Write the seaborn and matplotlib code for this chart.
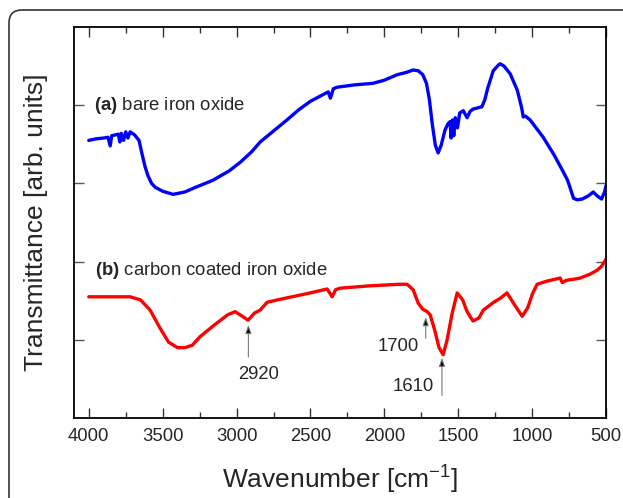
import matplotlib
matplotlib.use("Agg")
import matplotlib.pyplot as plt
import seaborn as sns
import pandas as pd
from matplotlib.patches import FancyBboxPatch
from matplotlib.ticker import MultipleLocator

# ---- data ----
wn_a = [4000, 3950, 3900, 3870, 3855, 3845, 3820, 3800, 3790, 3780, 3765, 3750, 3735, 3720,
        3690, 3660, 3640, 3620, 3600, 3575, 3550, 3500, 3430, 3350, 3290, 3160, 3050, 2975, 2900,
        2840, 2750, 2660, 2580, 2500, 2420, 2380, 2365, 2345, 2320, 2200, 2076, 2000, 1913,
        1850, 1805, 1770, 1740, 1715, 1695, 1675, 1655, 1636, 1615, 1590, 1570, 1555, 1548,
        1540, 1530, 1520, 1505, 1490, 1466, 1440, 1420, 1400, 1340, 1320, 1300, 1263, 1230,
        1216, 1190, 1148, 1100, 1070, 1060, 1045, 1013, 925, 850, 790, 760, 742, 720, 695,
        661, 620, 586, 560, 530, 510, 500]
tr_a = [3.55, 3.57, 3.58, 3.59, 3.48, 3.61, 3.62, 3.63, 3.53, 3.64, 3.55, 3.66, 3.58, 3.66,
        3.62, 3.55, 3.38, 3.22, 3.10, 3.00, 2.95, 2.90, 2.86, 2.89, 2.94, 3.04, 3.16, 3.27, 3.40,
        3.53, 3.67, 3.81, 3.94, 4.05, 4.13, 4.17, 4.09, 4.21, 4.23, 4.26, 4.28, 4.32, 4.39,
        4.42, 4.45, 4.44, 4.39, 4.28, 4.07, 3.75, 3.49, 3.39, 3.49, 3.68, 3.76, 3.79, 3.58,
        3.81, 3.61, 3.84, 3.71, 3.90, 3.93, 3.84, 3.92, 3.95, 3.98, 4.07, 4.22, 4.44, 4.51,
        4.53, 4.50, 4.40, 4.19, 3.96, 3.85, 3.86, 3.81, 3.59, 3.36, 3.15, 3.04, 2.94, 2.81, 2.79,
        2.80, 2.84, 2.89, 2.84, 2.80, 2.89, 2.97]

wn_b = [4000, 3900, 3800, 3720, 3650, 3585, 3518, 3460, 3400, 3350, 3300, 3247, 3150, 3060,
        3010, 2960, 2922, 2880, 2840, 2793, 2700, 2600, 2500, 2387, 2353, 2330, 2300, 2100,
        1900, 1846, 1805, 1771, 1740, 1710, 1690, 1660, 1630, 1602, 1575, 1541, 1507, 1470,
        1440, 1400, 1360, 1330, 1260, 1216, 1170, 1120, 1067, 1030, 995, 966, 900, 810, 796,
        770, 700, 674, 607, 560, 530, 500]
tr_b = [1.55, 1.55, 1.55, 1.55, 1.51, 1.38, 1.15, 0.97, 0.90, 0.90, 0.93, 1.04, 1.19, 1.32,
        1.36, 1.30, 1.25, 1.34, 1.38, 1.48, 1.52, 1.56, 1.60, 1.65, 1.55, 1.64, 1.66, 1.69,
        1.71, 1.71, 1.64, 1.47, 1.39, 1.36, 1.32, 1.13, 0.90, 0.81, 1.00, 1.34, 1.60, 1.51,
        1.36, 1.24, 1.28, 1.38, 1.48, 1.53, 1.60, 1.45, 1.30, 1.41, 1.60, 1.71, 1.75, 1.79, 1.73,
        1.76, 1.78, 1.79, 1.84, 1.89, 1.94, 2.03]

series_labels = ["(a)", "(b)"]
series_names = [" bare iron oxide", " carbon coated iron oxide"]

peak_labels = ["2920", "1700", "1610"]
peak_x = [2920, 1720, 1610]
arrow_tip_y = [1.19, 1.29, 0.77]
arrow_tail_y = [0.78, 1.02, 0.29]
peak_text_x = [2850, 1907, 1805]
peak_text_y = [0.55, 0.91, 0.40]

x_ticks = [4000, 3500, 3000, 2500, 2000, 1500, 1000, 500]

# ---- style ----
sns.set_style("white")
plt.rcParams['font.family'] = ['Liberation Sans', 'DejaVu Sans']
plt.rcParams['mathtext.fontset'] = 'custom'
plt.rcParams['mathtext.rm'] = 'Liberation Sans'
plt.rcParams['mathtext.it'] = 'Liberation Sans:italic'
plt.rcParams['mathtext.bf'] = 'Liberation Sans:bold'

fig = plt.figure(figsize=(6.23, 4.98), dpi=100)
ax = fig.add_axes([74/623, 1-418/498, (606-74)/623, (418-27)/498])

df_a = pd.DataFrame({"w": wn_a, "t": tr_a})
df_b = pd.DataFrame({"w": wn_b, "t": tr_b})
sns.lineplot(data=df_a, x="w", y="t", ax=ax, color="#0000ff", lw=2.4, estimator=None, sort=False)
sns.lineplot(data=df_b, x="w", y="t", ax=ax, color="#ff0000", lw=2.4, estimator=None, sort=False)

ax.set_xlim(4100, 500)
ax.set_ylim(0, 5)
ax.set_xticks(x_ticks)
ax.set_xticklabels([str(v) for v in x_ticks])
ax.xaxis.set_minor_locator(MultipleLocator(250))
ax.set_yticks([1, 2, 3, 4])
ax.set_yticklabels([])
ax.tick_params(axis='x', which='major', direction='in', length=7, width=1.0, color='#333333',
               labelsize=13.3, pad=7, top=True, bottom=True)
ax.tick_params(axis='x', which='minor', direction='in', length=4, width=1.0, color='#333333',
               top=True, bottom=True)
ax.tick_params(axis='y', which='major', direction='in', length=7, width=1.0, color='#555555',
               left=True, right=True)
for s in ax.spines.values():
    s.set_color('black')
    s.set_linewidth(1.3)

ax.set_xlabel(r"Wavenumber [cm$^{-1}$]", fontsize=19, labelpad=14)
ax.set_ylabel("Transmittance [arb. units]", fontsize=19, labelpad=15)

# series labels
ax.text(3965, 4.0, r"$\mathbf{(a)}$" + series_names[0], fontsize=13.3, va='center', ha='left')
ax.text(3958, 1.89, r"$\mathbf{(b)}$" + series_names[1], fontsize=13.3, va='center', ha='left')

# peak annotations
for lab, px, ty, tly, lx, ly in zip(peak_labels, peak_x, arrow_tip_y, arrow_tail_y, peak_text_x, peak_text_y):
    ax.annotate("", xy=(px, ty), xytext=(px, tly),
                arrowprops=dict(arrowstyle='-|>,head_length=0.5,head_width=0.18', fc='black',
                                ec='#777777', lw=0.8, shrinkA=0, shrinkB=0))
    ax.text(lx, ly, lab, fontsize=13.3, ha='center', va='center')

# outer rounded frame
frame = FancyBboxPatch((0.09, -1.0), 7.0, 5.88, boxstyle="round,pad=0,rounding_size=0.13",
                       transform=fig.dpi_scale_trans, fill=False, ec='#333333', lw=1.2, clip_on=False)
fig.patches.append(frame)

fig.savefig("out.png", dpi=100)
